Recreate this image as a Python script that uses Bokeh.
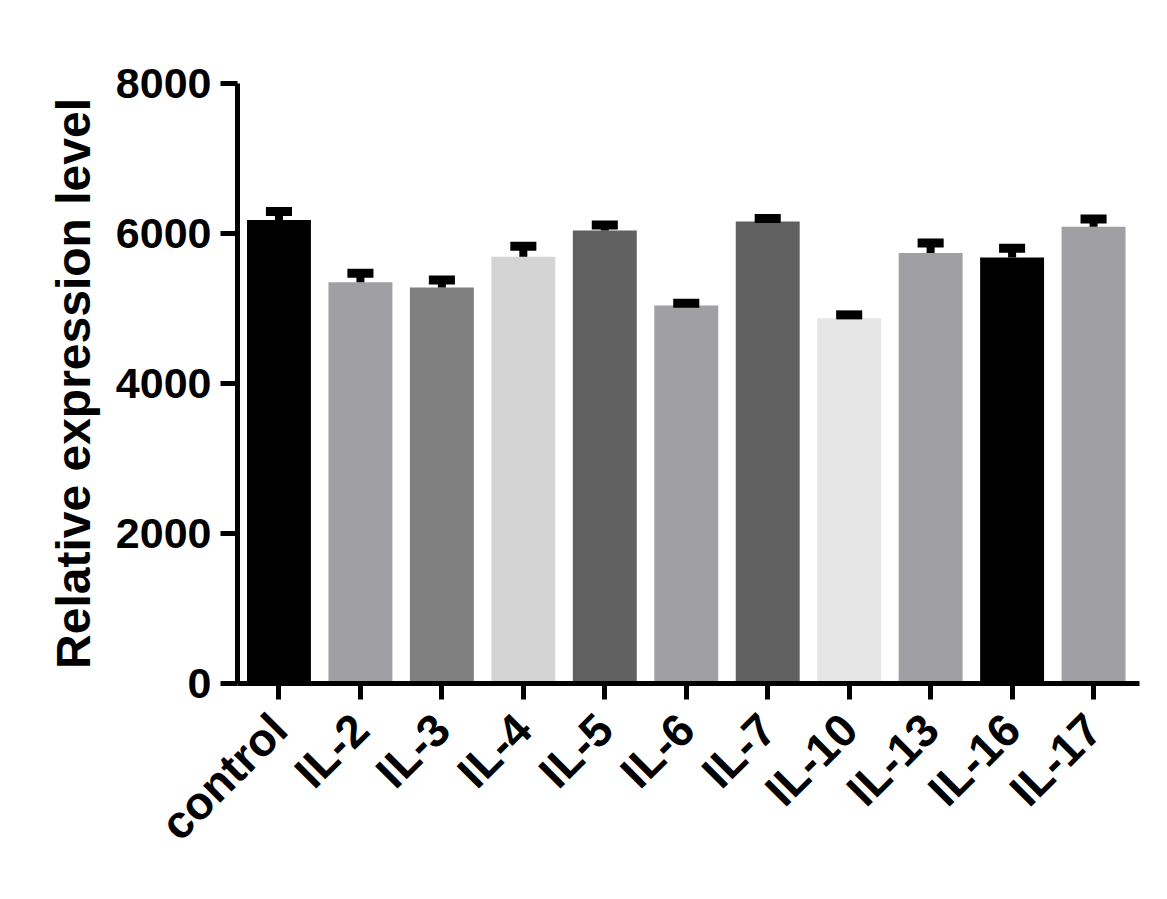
import math
from bokeh.plotting import figure
from bokeh.models import Range1d, FixedTicker, ColumnDataSource
from bokeh.embed import file_html
from bokeh.resources import INLINE

categories = ["control", "IL-2", "IL-3", "IL-4", "IL-5", "IL-6", "IL-7",
              "IL-10", "IL-13", "IL-16", "IL-17"]
values = [6180, 5350, 5280, 5690, 6040, 5040, 6160, 4870, 5740, 5680, 6090]
sem = [115, 120, 100, 140, 75, 30, 40, 45, 135, 125, 105]
colors = ["#000000", "#a0a0a4", "#808080", "#d4d4d4", "#606060", "#a0a0a4",
          "#606060", "#e6e6e6", "#a0a0a4", "#000000", "#a0a0a4"]
y_ticks = [0, 2000, 4000, 6000, 8000]

BAR_W = 0.785
CAP_HALF = 0.16
FONT = "Liberation Sans"

xs = list(range(len(categories)))
src = ColumnDataSource(dict(
    x=xs,
    top=values,
    upper=[v + s for v, s in zip(values, sem)],
    cap_l=[i - CAP_HALF for i in xs],
    cap_r=[i + CAP_HALF for i in xs],
    color=colors,
))

p = figure(width=1160, height=890, output_backend="svg", toolbar_location=None,
           x_range=Range1d(-0.509, 10.564), y_range=Range1d(0, 8000),
           min_border_left=237, min_border_right=21, min_border_top=83,
           min_border_bottom=207, background_fill_color="white")
p.outline_line_color = None
p.xgrid.visible = False
p.ygrid.visible = False

p.vbar(x="x", top="top", bottom=0, width=BAR_W, source=src,
       fill_color="color", line_color=None)
p.segment(x0="x", y0="top", x1="x", y1="upper", source=src,
          line_color="black", line_width=8, line_cap="butt")
p.segment(x0="cap_l", y0="upper", x1="cap_r", y1="upper", source=src,
          line_color="black", line_width=9, line_cap="butt")

for ax in (p.xaxis[0], p.yaxis[0]):
    ax.axis_line_width = 5
    ax.axis_line_color = "black"
    ax.major_tick_line_width = 5
    ax.major_tick_line_color = "black"
    ax.major_tick_in = 0
    ax.minor_tick_out = 0
    ax.minor_tick_in = 0
    ax.major_label_text_font = FONT
    ax.major_label_text_font_style = "bold"
    ax.major_label_text_color = "black"

xa = p.xaxis[0]
xa.ticker = FixedTicker(ticks=xs)
xa.major_label_overrides = {i: c for i, c in zip(xs, categories)}
xa.major_label_orientation = math.pi / 4
xa.major_label_text_font_size = "46px"
xa.major_tick_out = 16
xa.major_label_standoff = 22

ya = p.yaxis[0]
ya.ticker = FixedTicker(ticks=y_ticks, minor_ticks=[])
ya.major_label_text_font_size = "43px"
ya.major_tick_out = 17
ya.major_label_standoff = 9
ya.axis_label = "Relative expression level"
ya.axis_label_text_font = FONT
ya.axis_label_text_font_style = "bold"
ya.axis_label_text_font_size = "48px"
ya.axis_label_text_color = "black"
ya.axis_label_standoff = 13

open("out.html", "w").write(file_html(p, INLINE))
